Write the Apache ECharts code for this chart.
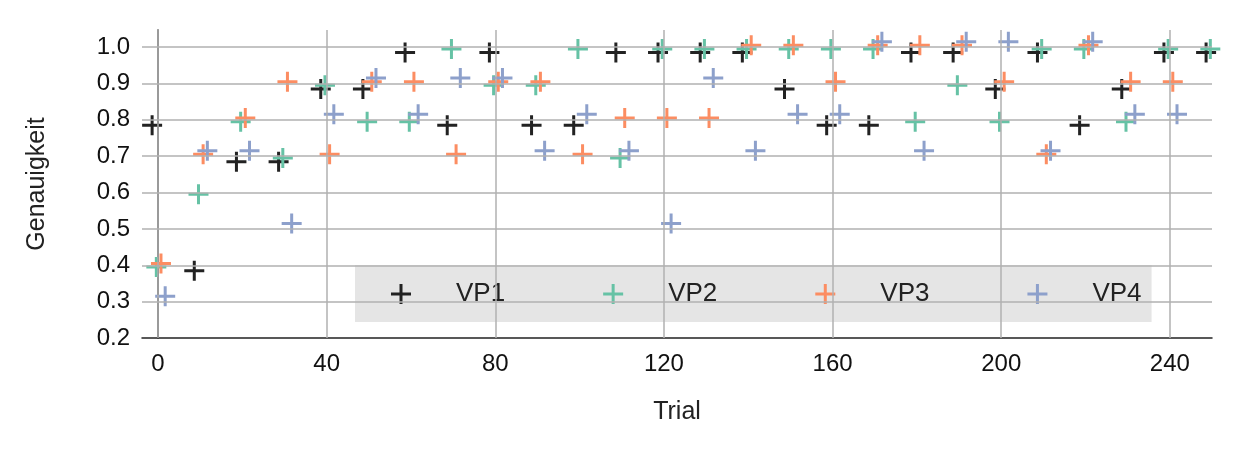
<!DOCTYPE html>
<html>
<head>
<meta charset="utf-8">
<title>Genauigkeit</title>
<script src="https://cdn.jsdelivr.net/npm/echarts@6/dist/echarts.min.js"></script>
<style>html,body{margin:0;background:#fff}#chart{width:1242px;height:468px}</style>
</head>
<body>
<div id="chart"></div>
<script>
var trials = [0,10,20,30,40,50,60,70,80,90,100,110,120,130,140,150,160,170,180,190,200,210,220,230,240,250];
var names = ['VP1','VP2','VP3','VP4'];
var vp1 = [0.8,0.4,0.7,0.7,0.9,0.9,1,0.8,1,0.8,0.8,1,1,1,1,0.9,0.8,0.8,1,1,0.9,1,0.8,0.9,1,1];
var vp2 = [0.4,0.6,0.8,0.7,0.9,0.8,0.8,1,0.9,0.9,1,0.7,1,1,1,1,1,1,0.8,0.9,0.8,1,1,0.8,1,1];
var vp3 = [0.4,0.7,0.8,0.9,0.7,0.9,0.9,0.7,0.9,0.9,0.7,0.8,0.8,0.8,1,1,0.9,1,1,1,0.9,0.7,1,0.9,0.9,1];
var vp4 = [0.3,0.7,0.7,0.5,0.8,0.9,0.8,0.9,0.9,0.7,0.8,0.7,0.5,0.9,0.7,0.8,0.8,1,0.7,1,1,0.7,1,0.8,0.8,0.6];
var xTicks = [0,40,80,120,160,200,240];
var yTicks = [0.2,0.3,0.4,0.5,0.6,0.7,0.8,0.9,1.0];
var colors = ['#222222','#66c2a5','#fc8d62','#8da0cb'];
// dodge offsets so the four markers don't sit on top of each other
var dx = [-1.4,-0.4,0.7,1.7];
var dy = [-0.015,-0.005,0.005,0.015];

var plus = 'path://M8.5,0h3v20h-3zM0,8.5h20v3h-20z';
var font = 'Liberation Sans, Arial, sans-serif';
var gridColor = '#b0b0b0';

var series = [vp1,vp2,vp3,vp4].map(function (vals, s) {
    return {
        name: names[s],
        type: 'scatter',
        symbol: plus,
        symbolSize: 20,
        z: 3,
        itemStyle: {color: colors[s], opacity: 1},
        data: vals.map(function (v, i) { return [trials[i] + dx[s], v + dy[s]]; })
    };
});

var chart = echarts.init(document.getElementById('chart'));
chart.setOption({
    animation: false,
    textStyle: {fontFamily: font},
    grid: {left: 142, right: 30, top: 30, bottom: 130},
    legend: {
        data: names.map(function (n) { return {name: n, icon: plus}; }),
        left: 355, top: 265, width: 840, height: 57,
        backgroundColor: '#e5e5e5', borderRadius: 0,
        padding: [16, 10, 15, 36],
        itemWidth: 20, itemHeight: 20, itemGap: 98,
        textStyle: {fontSize: 26, color: '#222', fontFamily: font, padding: [0, 0, 0, 40]}
    },
    xAxis: {
        type: 'value', min: -3.8, max: 250, interval: 40,
        name: 'Trial', nameLocation: 'middle', nameGap: 62,
        nameTextStyle: {fontSize: 25, color: '#222'},
        axisLine: {onZero: false, lineStyle: {color: '#222', width: 1.5}},
        axisTick: {show: false},
        axisLabel: {fontSize: 24, color: '#111', margin: 14, customValues: xTicks},
        splitLine: {show: false}
    },
    yAxis: {
        type: 'value', min: 0.2, max: 1.047, interval: 0.1,
        name: 'Genauigkeit', nameLocation: 'middle', nameGap: 92,
        nameTextStyle: {fontSize: 25, color: '#222'},
        axisLine: {show: true, lineStyle: {color: '#222', width: 1.5}},
        axisTick: {show: false},
        axisLabel: {fontSize: 24, color: '#111', margin: 12,
            formatter: function (v) { return v.toFixed(1); },
            customValues: yTicks},
        splitLine: {show: false}
    },
    series: series.concat([{
        type: 'scatter', data: [], silent: true, z: 1,
        markLine: {
            silent: true, symbol: 'none', label: {show: false},
            lineStyle: {color: gridColor, width: 1.5, type: 'solid'},
            data: xTicks.map(function (t) { return {xAxis: t}; })
                .concat(yTicks.slice(1).map(function (t) { return {yAxis: t}; }))
        }
    }])
});
window.onresize = chart.resize;
</script>
</body>
</html>
